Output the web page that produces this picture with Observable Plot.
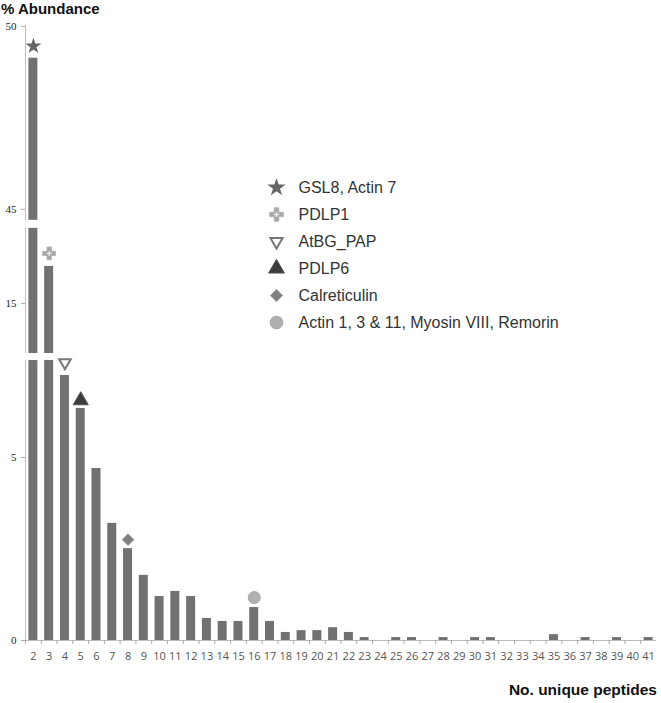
<!DOCTYPE html>
<html>
<head>
<meta charset="utf-8">
<script src="https://cdn.jsdelivr.net/npm/d3@7"></script>
<script src="https://cdn.jsdelivr.net/npm/@observablehq/plot@0.6"></script>
<style>
  body { margin: 0; background: #fff; font-family: Arial, "Liberation Sans", sans-serif; }
  #wrap { position: relative; width: 661px; height: 703px; overflow: hidden; }
  #ytitle { position: absolute; left: 1px; top: 1px; font-weight: bold; font-size: 15px; line-height: 15px; color: #111; }
  #xtitle { position: absolute; right: 4px; top: 682px; font-weight: bold; font-size: 15.5px; line-height: 15px; color: #111; }
  #chart { position: absolute; left: 0; top: 18px; }
  #legend { position: absolute; left: 258px; top: 170px; }
</style>
</head>
<body>
<div id="wrap">
  <div id="ytitle">% Abundance</div>
  <div id="chart"></div>
  <div id="legend"></div>
  <div id="xtitle">No. unique peptides</div>
</div>
<script>
// ---- data ----
const peptides = [2,3,4,5,6,7,8,9,10,11,12,13,14,15,16,17,18,19,20,21,22,23,24,25,26,27,28,29,30,31,32,33,34,35,36,37,38,39,40,41];
const abundance = [49.13,16.01,7.24,6.34,4.70,3.20,2.51,1.78,1.20,1.34,1.20,0.60,0.52,0.52,0.90,0.52,0.22,0.27,0.27,0.35,0.22,0.08,0,0.08,0.08,0,0.08,0,0.08,0.08,0,0,0,0.16,0,0.08,0,0.08,0,0.08];
const yTicks = [0, 5, 15, 45, 50];
// broken-axis segments: [bottom, top] of each kept range
const ySegments = [[0, 7.65], [13.63, 17.05], [44.7, 50]];
const markerPeptides = [2, 3, 4, 5, 8, 16];
const markerLabels = ["GSL8, Actin 7", "PDLP1", "AtBG_PAP", "PDLP6", "Calreticulin", "Actin 1, 3 & 11, Myosin VIII, Remorin"];

// ---- rendering ----
const W = 661, H = 655;
const mTop = 7, mBottom = 33, mLeft = 25, mRight = 5;
const pxPerUnit = 36.6;
// piecewise y scale (same slope in each kept segment, tiny gaps between)
const gapPx = [7, 8];
const yDomain = [], yRange = [];
let yPix = H - mBottom;
ySegments.forEach((seg, i) => {
  if (i > 0) yPix -= gapPx[i - 1];
  yDomain.push(seg[0]); yRange.push(yPix);
  yPix -= (seg[1] - seg[0]) * pxPerUnit;
  yDomain.push(seg[1]); yRange.push(yPix);
});
const gaps = ySegments.slice(1).map((s, i) => ({lo: ySegments[i][1], hi: s[0]}));

const rows = peptides.map((p, i) => ({p, v: abundance[i]}));
const valueOf = p => abundance[peptides.indexOf(p)];

const markerStyles = [
  [{symbol: "star", r: 5, fill: "#666", dy: -12}],
  [{symbol: "cross", r: 5.4, fill: "#a6a6a6", stroke: "#b4b4b4", strokeWidth: 1, dy: -13}, {symbol: "plus", r: 1.7, stroke: "#f2f2f2", strokeWidth: 1.3, dy: -13}],
  [{symbol: "triangle", r: 4.3, fill: "#fff", stroke: "#777", strokeWidth: 2, rotate: 180, dy: -13}],
  [{symbol: "triangle", r: 5.6, fill: "#3c3c3c", stroke: "#555", strokeWidth: 1, dy: -8}],
  [{symbol: "diamond2", r: 5.3, fill: "#7f7f7f", stroke: "#999", strokeWidth: 0.8, dy: -9}],
  [{symbol: "circle", r: 6, fill: "#b0b0b0", stroke: "#a4a4a4", strokeWidth: 1, dy: -10}]
];

const step = (W - mLeft - mRight) / peptides.length;

const markerMarks = [];
markerPeptides.forEach((p, i) => {
  markerStyles[i].forEach(st => {
    markerMarks.push(Plot.dot([p], {x: d => d, y: d => valueOf(d), ...st}));
  });
});

const chart = Plot.plot({
  width: W, height: H,
  marginTop: mTop, marginBottom: mBottom, marginLeft: mLeft, marginRight: mRight,
  style: {background: "#fff"},
  x: {type: "band", domain: peptides, paddingInner: 0.43, paddingOuter: 0.215, label: null},
  y: {type: "linear", domain: yDomain, range: yRange, label: null},
  marks: [
    Plot.frame({anchor: "left", stroke: "#bdbdbd"}),
    Plot.ruleY([0], {stroke: "#bdbdbd"}),
    Plot.axisY({ticks: yTicks, tickSize: 4, tickPadding: 5, stroke: "#aaa", fill: "#222",
      fontSize: 11, fontFamily: "Liberation Serif, DejaVu Serif, serif", label: null}),
    Plot.axisX({tickSize: 4, tickFormat: () => "", dx: -step / 2, stroke: "#aaa", label: null}),
    Plot.axisX({tickSize: 0, tickPadding: 12, fill: "#555", fontSize: 11,
      fontFamily: "Open Sans, Lato, sans-serif", label: null}),
    Plot.barY(rows, {x: "p", y: "v", fill: "#717171"}),
    Plot.rect(gaps, {y1: "lo", y2: "hi", fill: "#fff", insetLeft: -4}),
    ...markerMarks
  ]
});
document.getElementById("chart").append(chart);

// legend
const legendMarks = [];
markerLabels.forEach((lab, i) => {
  markerStyles[i].forEach(st => {
    const {dy, ...rest} = st;
    const r = rest.r * (i === 0 ? 1.15 : 1.05);
    legendMarks.push(Plot.dot([lab], {y: d => d, frameAnchor: "left", dx: 18, ...rest, r}));
  });
});
const legend = Plot.plot({
  width: 380, height: 170,
  marginTop: 0, marginBottom: 0, marginLeft: 0, marginRight: 0,
  style: {background: "transparent"},
  y: {type: "point", domain: markerLabels, range: [16, 152], padding: 0, axis: null},
  marks: [
    ...legendMarks,
    Plot.text(markerLabels, {y: d => d, text: d => d, frameAnchor: "left", dx: 40, textAnchor: "start",
      fontSize: 16, fill: "#333", fontFamily: "Arial, Liberation Sans, sans-serif"})
  ]
});
document.getElementById("legend").append(legend);
</script>
</body>
</html>
